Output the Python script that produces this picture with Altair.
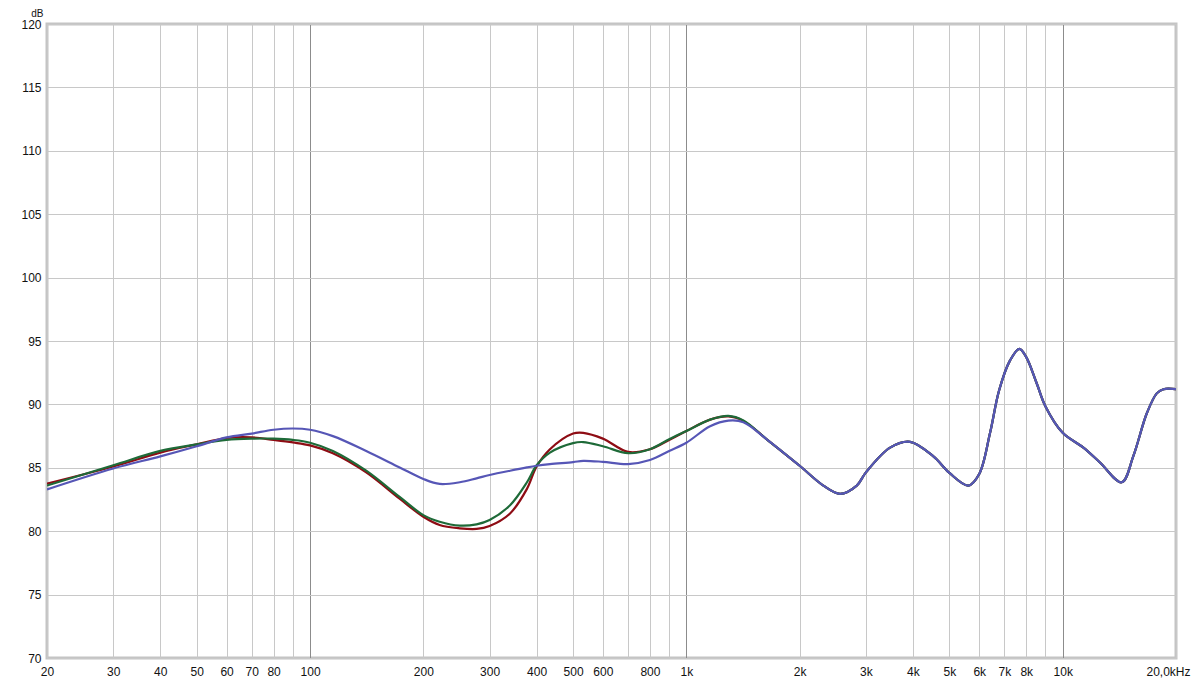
import altair as alt
import pandas as pd

# Frequencies (Hz) at which the curves were read
freq = [20, 30, 40, 50, 60, 70, 80, 90, 100, 115, 141, 173, 200, 221, 250, 277, 300,
        340, 377, 400, 434, 500, 532, 600, 700, 800, 900, 1000, 1156, 1293, 1417, 1635,
        2000, 2312, 2561, 2836, 3000, 3478, 3931, 4533, 5000, 5616, 6000, 6412, 6775,
        7246, 7670, 8000, 8532, 9000, 10000, 11350, 12560, 14350, 15410, 16730, 17780,
        18530, 20000]

red = [83.75, 85.1, 86.2, 86.85, 87.35, 87.4, 87.2, 87.0, 86.77, 86.15, 84.64, 82.56,
       81.14, 80.49, 80.23, 80.18, 80.41, 81.4, 83.34, 85.1, 86.46, 87.7, 87.76, 87.3,
       86.25, 86.46, 87.2, 87.9, 88.8, 89.05, 88.7, 87.25,
       85.16, 83.6, 82.95, 83.6, 84.64, 86.59, 87.05, 85.9, 84.6, 83.6, 84.51, 87.76,
       91.1, 93.47, 94.38, 93.73, 91.65, 89.84, 87.76, 86.59, 85.42, 83.86, 85.94, 89.3,
       90.87, 91.2, 91.2]

green = [83.6, 85.2, 86.33, 86.85, 87.2, 87.3, 87.3, 87.2, 86.98, 86.33, 84.77, 82.7,
         81.27, 80.75, 80.44, 80.54, 80.88, 82.05, 83.86, 85.2, 86.2, 86.95, 87.03, 86.7,
         86.15, 86.46, 87.25, 87.9, 88.8, 89.1, 88.74, 87.25,
         85.16, 83.6, 82.95, 83.6, 84.64, 86.59, 87.05, 85.9, 84.6, 83.6, 84.51, 87.76,
         91.1, 93.47, 94.38, 93.73, 91.65, 89.84, 87.76, 86.59, 85.42, 83.86, 85.94, 89.3,
         90.87, 91.2, 91.2]

blue = [83.3, 84.95, 85.9, 86.7, 87.4, 87.7, 88.0, 88.1, 88.0, 87.5, 86.33, 85.03,
        84.12, 83.73, 83.86, 84.17, 84.43, 84.77, 85.03, 85.16, 85.29, 85.45, 85.55, 85.47,
        85.29, 85.62, 86.33, 86.98, 88.28, 88.72, 88.6, 87.25,
        85.16, 83.6, 82.95, 83.6, 84.64, 86.59, 87.05, 85.9, 84.6, 83.6, 84.51, 87.76,
        91.1, 93.47, 94.38, 93.73, 91.65, 89.84, 87.76, 86.59, 85.42, 83.86, 85.94, 89.3,
        90.87, 91.2, 91.2]

series_names = ["red", "green", "blue"]
series_colors = ["#8e0c14", "#1e6a38", "#5656b6"]

x_ticks = [20, 30, 40, 50, 60, 70, 80, 90,
           100, 200, 300, 400, 500, 600, 700, 800, 900,
           1000, 2000, 3000, 4000, 5000, 6000, 7000, 8000, 9000,
           10000, 20000]
y_ticks = [70, 75, 80, 85, 90, 95, 100, 105, 110, 115, 120]

rows = []
for name, vals in zip(series_names, [red, green, blue]):
    for f, v in zip(freq, vals):
        rows.append({"f": f, "db": v, "s": name})
df = pd.DataFrame(rows)

label_expr = (
    "indexof([90,700,900,9000], datum.value) >= 0 ? '' : "
    "datum.value >= 20000 ? '20,0kHz' : "
    "datum.value >= 1000 ? (datum.value/1000) + 'k' : datum.value + ''"
)

x_enc = alt.X(
    "f:Q",
    scale=alt.Scale(type="log", domain=[20, 20000], nice=False),
    axis=alt.Axis(
        values=x_ticks,
        labelExpr=label_expr,
        title=None,
        ticks=False,
        domain=False,
        grid=True,
        gridColor=alt.condition(
            "datum.value == 100 || datum.value == 1000 || datum.value == 10000",
            alt.value("#8c8c8c"),
            alt.value("#c8c8c8"),
        ),
        gridWidth=1,
        labelPadding=8,
        labelFontSize=12,
        labelFont="Liberation Sans",
        labelColor="#111111",
        labelOffset=alt.condition("datum.value == 20000", alt.value(-8), alt.value(0)),
        labelFlush=False,
        labelOverlap=False,
    ),
)

y_enc = alt.Y(
    "db:Q",
    scale=alt.Scale(domain=[70, 120], nice=False, zero=False),
    axis=alt.Axis(
        values=y_ticks,
        title="dB",
        titleAngle=0,
        titleAlign="right",
        titleBaseline="alphabetic",
        titleX=-4,
        titleY=-8,
        titleFontSize=10,
        titleFontWeight="normal",
        titleFont="Liberation Sans",
        titleColor="#111111",
        ticks=False,
        domain=False,
        grid=True,
        gridColor="#c8c8c8",
        labelPadding=6,
        labelFontSize=12,
        labelFont="Liberation Sans",
        labelColor="#111111",
        labelFlush=False,
        labelOverlap=False,
    ),
)

layers = []
for name, col in zip(series_names, series_colors):
    layers.append(
        alt.Chart(df)
        .transform_filter(alt.datum.s == name)
        .mark_line(color=col, strokeWidth=2.2, interpolate="catmull-rom", clip=True)
        .encode(x=x_enc, y=y_enc)
    )

chart = (
    alt.layer(*layers)
    .properties(
        width=1129,
        height=634,
        autosize=alt.AutoSizeParams(type="none"),
        padding={"left": 39, "top": 16, "right": 16, "bottom": 20},
        background="white",
    )
    .configure_view(stroke="#c4c4c4", strokeWidth=3)
)

chart.save("out.html", embed_options={"renderer": "svg", "actions": False})
